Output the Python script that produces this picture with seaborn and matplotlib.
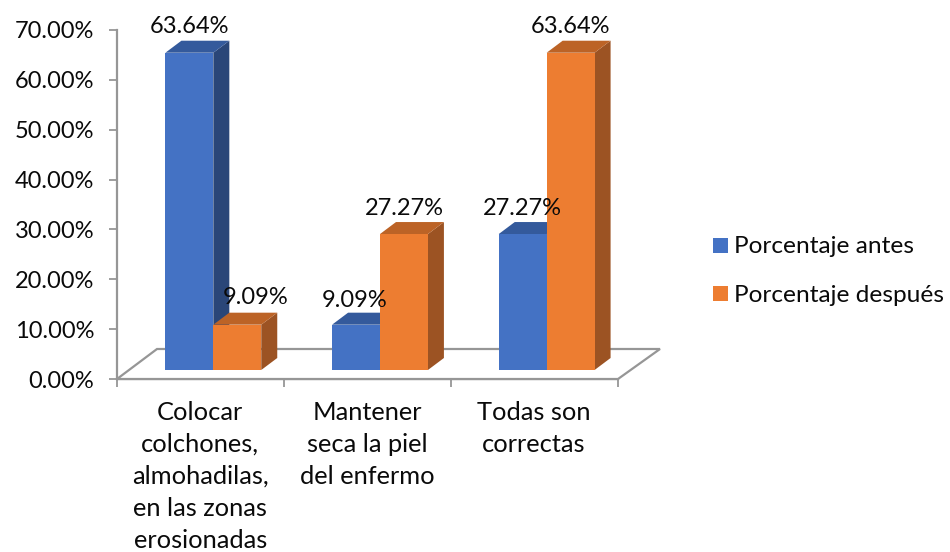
import seaborn as sns
import matplotlib.pyplot as plt
import pandas as pd
from matplotlib.patches import Polygon, Rectangle
from matplotlib.lines import Line2D

W, H = 950, 552

categorias = ['Colocar\ncolchones,\nalmohadilas,\nen las zonas\nerosionadas',
              'Mantener\nseca la piel\ndel enfermo',
              'Todas son\ncorrectas']
antes = [63.64, 9.09, 27.27]
despues = [9.09, 27.27, 63.64]
series = ['Porcentaje antes', 'Porcentaje después']
ticks_y = [0, 10, 20, 30, 40, 50, 60, 70]

# colores: frente, lado, tapa
colores = {'Porcentaje antes': ('#4472C4', '#2A4678', '#345A9C'),
           'Porcentaje después': ('#ED7D31', '#9C5323', '#BC6326')}
GRIS = '#969696'
TEXTO = '#0A0A0A'

df = pd.DataFrame({
    'cat': categorias * 2,
    'serie': [series[0]] * 3 + [series[1]] * 3,
    'valor': antes + despues,
})

plt.rcParams['font.family'] = ['Lato', 'DejaVu Sans']
fig = plt.figure(figsize=(W / 100, H / 100), dpi=100, facecolor='white')


def caja(l, t, r, b):
    return [l / W, 1 - b / H, (r - l) / W, (b - t) / H]


# eje de fondo: ejes, piso y ticks
ax = fig.add_axes(caja(117, 30, 618, 379))
ax.set_xlim(0, 3)
ax.set_ylim(0, 70)
ax.set_yticks(ticks_y)
ax.set_yticklabels([f'{t:.2f}%' for t in ticks_y], fontsize=17, color=TEXTO)
ax.set_xticks([0, 1, 2, 3])
ax.set_xticklabels([])
ax.tick_params(axis='both', length=5.5, width=1.3, color=GRIS)
ax.tick_params(axis='y', pad=11)
for lado in ['top', 'right']:
    ax.spines[lado].set_visible(False)
for lado in ['left', 'bottom']:
    ax.spines[lado].set_color(GRIS)
    ax.spines[lado].set_linewidth(1.6)
ax.patch.set_visible(False)

for i, c in enumerate(categorias):
    fig.text((117 + (i + 0.5) * 500 / 3) / W, 1 - 401 / H, c, ha='center', va='top',
             fontsize=18.3, linespacing=1.47, color=TEXTO)

# piso en pixeles de la figura
piso = [(117, 379), (157, 349), (660, 349), (618, 379)]
fig.add_artist(Polygon([(x / W, 1 - y / H) for x, y in piso], closed=True,
                       transform=fig.transFigure, facecolor='white',
                       edgecolor=GRIS, linewidth=1.6, zorder=1))

# barras, desplazadas al centro del piso
ax2 = fig.add_axes(caja(130, 21, 630, 370), zorder=3)
ax2.patch.set_visible(False)
sns.barplot(data=df, x='cat', y='valor', hue='serie', hue_order=series,
            palette={s: colores[s][0] for s in series}, width=0.575, gap=0,
            saturation=1, legend=False, ax=ax2)
ax2.set_xlim(-0.5, 2.5)
ax2.set_ylim(0, 70)
ax2.axis('off')

fig.canvas.draw()
dx, dy = 16, 12  # profundidad en pixeles
px = ax2.transData.transform([(0, 0), (1, 1)])
ddx = dx * (1 / (px[1][0] - px[0][0]))
ddy = dy * (1 / (px[1][1] - px[0][1]))

barras = [p for p in ax2.patches if isinstance(p, Rectangle)]
# ajuste de etiquetas (puntos) por barra: (serie, categoria)
desfases = {(1, 0): (13, 12), (0, 1): (-1, 10)}
for k, p in enumerate(barras):
    serie = series[k // 3]
    x0, w, h = p.get_x(), p.get_width(), p.get_height()
    x1 = x0 + w
    ax2.add_patch(Polygon([(x1, 0), (x1 + ddx, ddy), (x1 + ddx, h + ddy), (x1, h)],
                          closed=True, facecolor=colores[serie][1], edgecolor='none',
                          clip_on=False, zorder=p.get_zorder() - 0.1))
    ax2.add_patch(Polygon([(x0, h), (x0 + ddx, h + ddy), (x1 + ddx, h + ddy), (x1, h)],
                          closed=True, facecolor=colores[serie][2], edgecolor='none',
                          clip_on=False, zorder=p.get_zorder() - 0.1))
    off = desfases.get((k // 3, k % 3), (0, 11))
    ax2.annotate(f'{h:.2f}%', xy=(x0 + w / 2, h), xycoords='data',
                 xytext=off, textcoords='offset points',
                 ha='center', va='bottom', fontsize=17, color=TEXTO,
                 annotation_clip=False, zorder=10)

# leyenda
manejadores = [Line2D([], [], linestyle='none', marker='s', markersize=10.8,
                      markeredgewidth=0, color=colores[s][0], label=s) for s in series]
fig.legend(handles=manejadores, loc='center left', bbox_to_anchor=(710 / W, 1 - 271 / H),
           frameon=False, fontsize=17.6, labelspacing=1.12, handlelength=0.8,
           handletextpad=0.2, borderpad=0, borderaxespad=0, labelcolor=TEXTO)

fig.savefig('out.png', dpi=100)
